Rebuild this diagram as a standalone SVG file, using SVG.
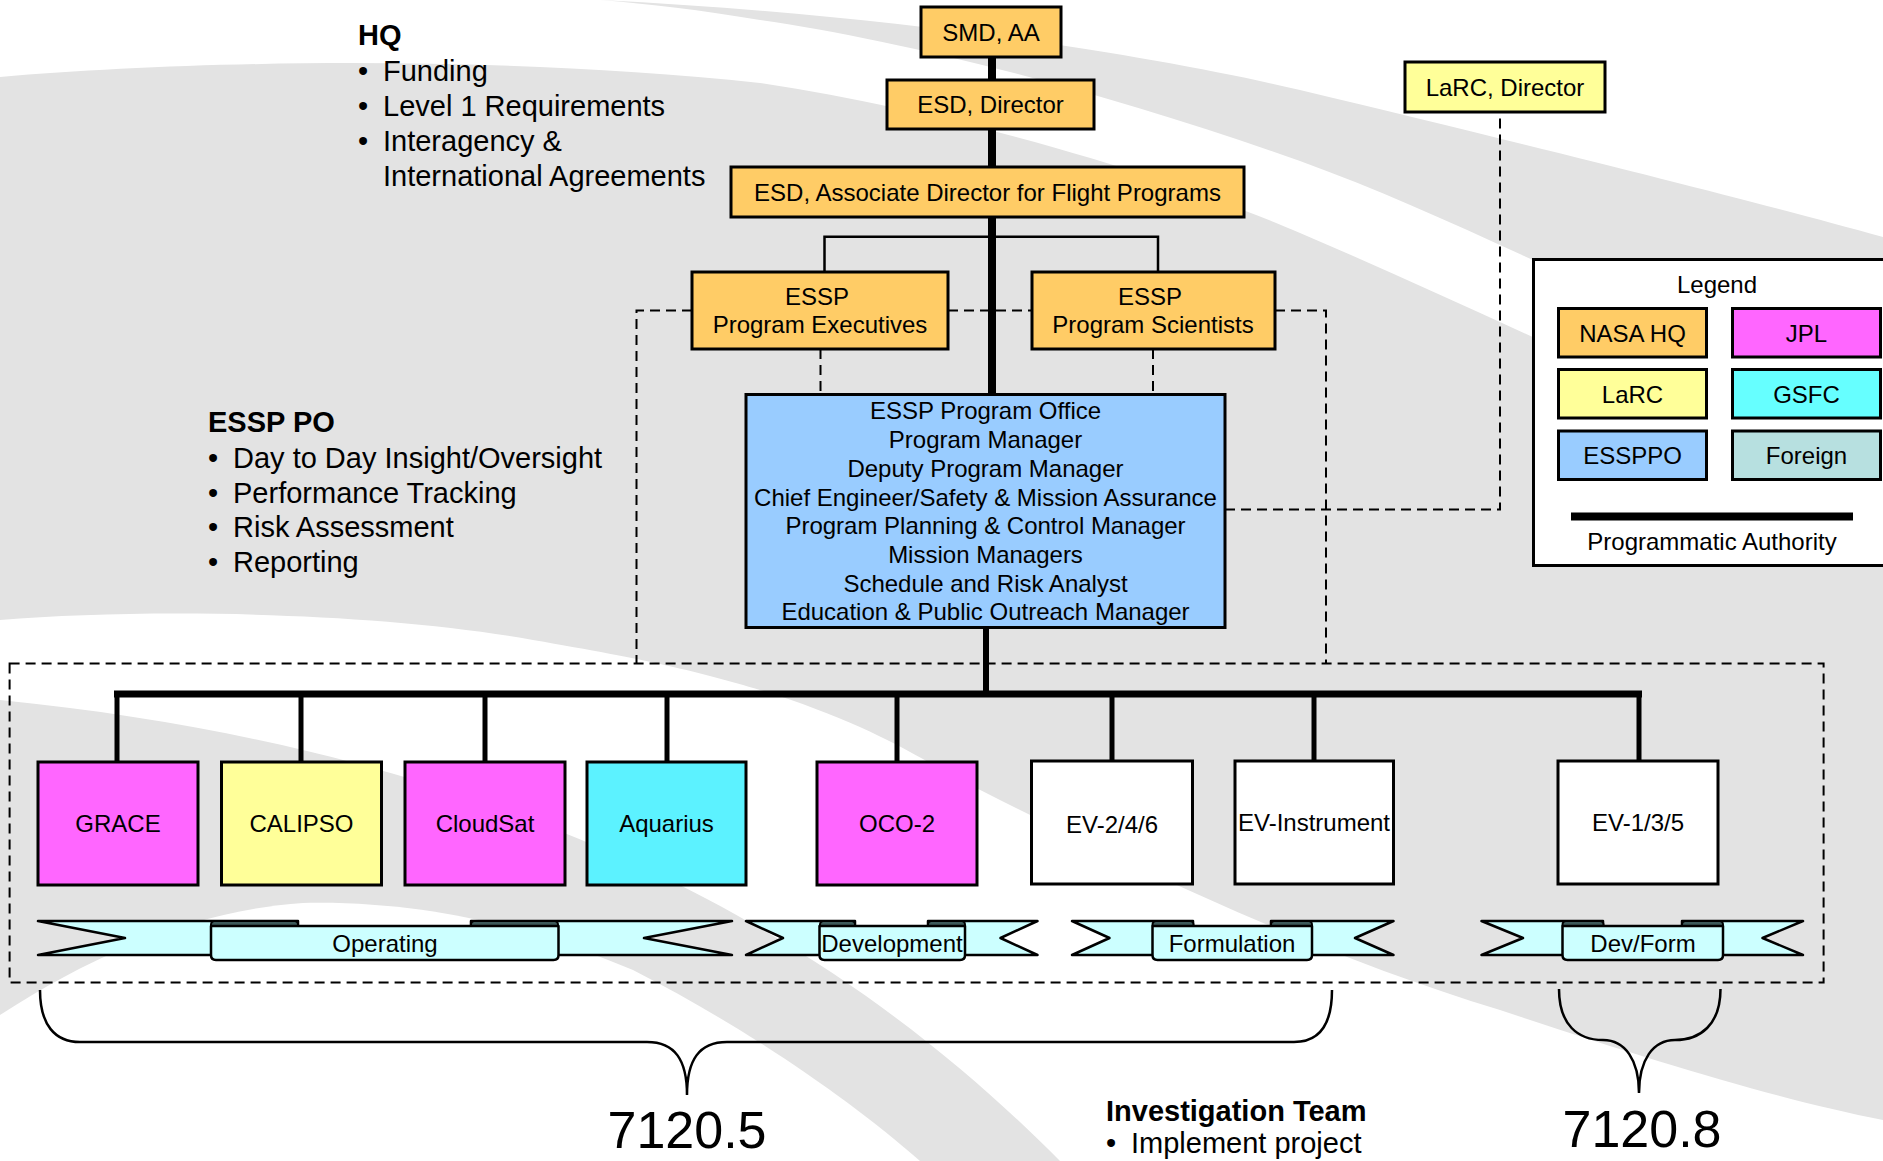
<svg xmlns="http://www.w3.org/2000/svg" width="1883" height="1161" viewBox="0 0 1883 1161">
<defs>
<style>
text{font-family:"Liberation Sans",Arial,sans-serif;fill:#000}
.n{stroke:#000;stroke-width:3}
.t24{font-size:24px}
.c{text-anchor:middle}
.h{font-size:29px}
.hb{font-size:29px;font-weight:bold}
.big{font-size:52px}
.hq{fill:#FFCC66}
.larc{fill:#FFFF99}
.jpl{fill:#FF66FF}
.gsfc{fill:#66FFFF}
.po{fill:#99CCFF}
.fr{fill:#B7E0E0}
.wh{fill:#FFFFFF}
.thick{stroke:#000;fill:none}
.dash{stroke:#000;stroke-width:2;fill:none;stroke-dasharray:10 6}
.rib{fill:#CCFFFF;stroke:#000;stroke-width:2.5;stroke-linejoin:round}
.curl{fill:#3d5a5a;stroke:#000;stroke-width:2}
.brace{fill:none;stroke:#000;stroke-width:2.5}
</style>
</defs>
<g id="background">
<rect x="0" y="0" width="1883" height="1161" fill="#E3E3E3"/>
<path fill="#FFFFFF" d="M0,0 L0,77 C200,60 500,55 760,83 C1000,120 1200,190 1300,233 C1500,318 1700,420 1883,487 L1883,0 Z"/>
<path fill="#E3E3E3" d="M600,0 C900,15 1150,55 1300,90 C1550,150 1750,200 1883,237 L1883,420 C1750,360 1600,290 1533,260 C1450,222 1380,190 1300,161 C1100,90 900,40 760,20 C700,10 650,4 600,0 Z"/>
<path fill="#FFFFFF" d="M0,620 C150,608 380,612 533,640 C650,660 700,672 760,690 C850,718 900,745 950,775 C1100,850 1300,950 1500,1010 C1650,1060 1780,1100 1883,1120 L1883,1161 L1060,1161 C900,1000 600,760 0,700 Z"/>
<path fill="#FFFFFF" d="M0,1015 C100,950 200,910 303,903 C450,900 560,940 633,970 C750,1030 850,1100 920,1161 L0,1161 Z"/>
</g>
<g id="connectors">
<line class="thick" x1="992" y1="57" x2="992" y2="394" stroke-width="8"/>
<path d="M824.5,272 V236.7 H1158 V272" fill="none" stroke="#000" stroke-width="2.5"/>
<path class="dash" d="M692,310.5 H636.5 V663"/>
<path class="dash" d="M948,310.5 H1032"/>
<path class="dash" d="M1275,310.5 H1326 V663"/>
<path class="dash" d="M820.5,349 V394"/>
<path class="dash" d="M1153,349 V394"/>
<path class="dash" d="M1225,509.5 H1500 V112"/>
<line class="thick" x1="986" y1="627" x2="986" y2="694" stroke-width="6"/>
<line class="thick" x1="114" y1="694" x2="1642" y2="694" stroke-width="7"/>
<g stroke="#000" stroke-width="5">
<line x1="117" y1="694" x2="117" y2="762"/>
<line x1="301" y1="694" x2="301" y2="762"/>
<line x1="485" y1="694" x2="485" y2="762"/>
<line x1="667" y1="694" x2="667" y2="762"/>
<line x1="897" y1="694" x2="897" y2="762"/>
<line x1="1112" y1="694" x2="1112" y2="762"/>
<line x1="1314" y1="694" x2="1314" y2="762"/>
<line x1="1639" y1="694" x2="1639" y2="762"/>
</g>
<rect x="9.6" y="663.5" width="1814" height="319" class="dash"/>
</g>
<g id="hq-notes">
<text class="hb" x="358" y="44.5">HQ</text>
<text class="h" x="358" y="80.5">•</text><text class="h" x="383" y="80.5">Funding</text>
<text class="h" x="358" y="116">•</text><text class="h" x="383" y="116">Level 1 Requirements</text>
<text class="h" x="358" y="151">•</text><text class="h" x="383" y="151">Interagency &amp;</text>
<text class="h" x="383" y="186">International Agreements</text>
</g>
<g id="po-notes">
<text class="hb" x="208" y="432">ESSP PO</text>
<text class="h" x="208" y="468">•</text><text class="h" x="233" y="468">Day to Day Insight/Oversight</text>
<text class="h" x="208" y="503">•</text><text class="h" x="233" y="503">Performance Tracking</text>
<text class="h" x="208" y="537">•</text><text class="h" x="233" y="537">Risk Assessment</text>
<text class="h" x="208" y="572">•</text><text class="h" x="233" y="572">Reporting</text>
</g>
<g id="smd">
<rect class="n hq" x="921" y="7" width="140" height="50"/>
<text class="t24 c" x="991" y="40.5">SMD, AA</text>
</g>
<g id="esd-director">
<rect class="n hq" x="887" y="80" width="207" height="49"/>
<text class="t24 c" x="990.5" y="113">ESD, Director</text>
</g>
<g id="esd-assoc">
<rect class="n hq" x="731" y="167" width="513" height="50"/>
<text class="t24 c" x="987.5" y="200.5">ESD, Associate Director for Flight Programs</text>
</g>
<g id="essp-exec">
<rect class="n hq" x="692" y="272" width="256" height="77"/>
<text class="t24 c" x="817" y="305">ESSP</text>
<text class="t24 c" x="820" y="333">Program Executives</text>
</g>
<g id="essp-sci">
<rect class="n hq" x="1032" y="272" width="243" height="77"/>
<text class="t24 c" x="1150" y="305">ESSP</text>
<text class="t24 c" x="1153" y="333">Program Scientists</text>
</g>
<g id="larc-director">
<rect class="n larc" x="1405" y="62" width="200" height="50"/>
<text class="t24 c" x="1505" y="95.5">LaRC, Director</text>
</g>
<g id="essp-po">
<rect class="n po" x="746" y="394.5" width="479" height="233"/>
<g class="t24">
<text class="c" x="985.5" y="419">ESSP Program Office</text>
<text class="c" x="985.5" y="448">Program Manager</text>
<text class="c" x="985.5" y="477">Deputy Program Manager</text>
<text class="c" x="985.5" y="505.5">Chief Engineer/Safety &amp; Mission Assurance</text>
<text class="c" x="985.5" y="534">Program Planning &amp; Control Manager</text>
<text class="c" x="985.5" y="562.5">Mission Managers</text>
<text class="c" x="985.5" y="591.5">Schedule and Risk Analyst</text>
<text class="c" x="985.5" y="620">Education &amp; Public Outreach Manager</text>
</g>
</g>
<g id="legend">
<rect x="1533.5" y="259.5" width="380" height="306" fill="#FFFFFF" stroke="#000" stroke-width="3"/>
<text class="t24 c" x="1717" y="293">Legend</text>
<rect class="n hq" x="1558.5" y="308.5" width="148" height="48.5"/>
<text class="t24 c" x="1632.5" y="341.5">NASA HQ</text>
<rect class="n jpl" x="1732.5" y="308.5" width="148" height="48.5"/>
<text class="t24 c" x="1806.5" y="341.5">JPL</text>
<rect class="n larc" x="1558.5" y="369.5" width="148" height="48.5"/>
<text class="t24 c" x="1632.5" y="402.5">LaRC</text>
<rect class="n gsfc" x="1732.5" y="369.5" width="148" height="48.5"/>
<text class="t24 c" x="1806.5" y="402.5">GSFC</text>
<rect class="n po" x="1558.5" y="431" width="148" height="48.5"/>
<text class="t24 c" x="1632.5" y="464">ESSPPO</text>
<rect class="n fr" x="1732.5" y="431" width="148" height="48.5"/>
<text class="t24 c" x="1806.5" y="464">Foreign</text>
<line x1="1571" y1="516.5" x2="1853" y2="516.5" stroke="#000" stroke-width="8"/>
<text class="t24 c" x="1712" y="550">Programmatic Authority</text>
</g>
<g id="grace"><rect class="n jpl" x="38" y="762" width="160" height="123"/><text class="t24 c" x="118" y="832">GRACE</text></g>
<g id="calipso"><rect class="n larc" x="221.5" y="762" width="160" height="123"/><text class="t24 c" x="301.5" y="832">CALIPSO</text></g>
<g id="cloudsat"><rect class="n jpl" x="405" y="762" width="160" height="123"/><text class="t24 c" x="485" y="832">CloudSat</text></g>
<g id="aquarius"><rect class="n" fill="#5CF2FF" x="587" y="762" width="159" height="123"/><text class="t24 c" x="666.5" y="832">Aquarius</text></g>
<g id="oco2"><rect class="n jpl" x="817" y="762" width="160" height="123"/><text class="t24 c" x="897" y="832">OCO-2</text></g>
<g id="ev246"><rect class="n wh" x="1031.5" y="761" width="161" height="123"/><text class="t24 c" x="1112" y="832.5">EV-2/4/6</text></g>
<g id="ev-instrument"><rect class="n wh" x="1235" y="761" width="158.5" height="123"/><text class="t24 c" x="1314" y="831">EV-Instrument</text></g>
<g id="ev135"><rect class="n wh" x="1558" y="761" width="160" height="123"/><text class="t24 c" x="1638" y="831">EV-1/3/5</text></g>
<g id="ribbon-operating">
<path class="rib" d="M38,921 H298 V955 H38 L125,938 Z"/>
<path class="rib" d="M732,921 H471 V955 H732 L644,938 Z"/>
<rect class="curl" x="211" y="921" width="87" height="7" rx="3.5"/>
<rect class="curl" x="471" y="921" width="87" height="7" rx="3.5"/>
<path class="rib" d="M211,926 H558.5 V955 Q558.5,960 553.5,960 H216 Q211,960 211,955 Z"/>
<text class="t24 c" x="385" y="952">Operating</text>
</g>
<g id="ribbon-development">
<path class="rib" d="M746,921 H855 V955 H746 L783,938 Z"/>
<path class="rib" d="M1037.5,921 H928 V955 H1037.5 L1000.5,938 Z"/>
<rect class="curl" x="820" y="921" width="35" height="7" rx="3.5"/>
<rect class="curl" x="928" y="921" width="37" height="7" rx="3.5"/>
<path class="rib" d="M819.5,926 H965 V955 Q965,960 960,960 H824.5 Q819.5,960 819.5,955 Z"/>
<text class="t24 c" x="892" y="952">Development</text>
</g>
<g id="ribbon-formulation">
<path class="rib" d="M1072,921 H1193 V955 H1072 L1109.5,938 Z"/>
<path class="rib" d="M1393.5,921 H1271 V955 H1393.5 L1355,938 Z"/>
<rect class="curl" x="1152.5" y="921" width="41" height="7" rx="3.5"/>
<rect class="curl" x="1271" y="921" width="41" height="7" rx="3.5"/>
<path class="rib" d="M1152.5,926 H1312 V955 Q1312,960 1307,960 H1157.5 Q1152.5,960 1152.5,955 Z"/>
<text class="t24 c" x="1232" y="952">Formulation</text>
</g>
<g id="ribbon-devform">
<path class="rib" d="M1481.5,921 H1603 V955 H1481.5 L1523,938 Z"/>
<path class="rib" d="M1803,921 H1682 V955 H1803 L1762.5,938 Z"/>
<rect class="curl" x="1562.5" y="921" width="41" height="7" rx="3.5"/>
<rect class="curl" x="1682" y="921" width="41" height="7" rx="3.5"/>
<path class="rib" d="M1562.5,926 H1723 V955 Q1723,960 1718,960 H1567.5 Q1562.5,960 1562.5,955 Z"/>
<text class="t24 c" x="1643" y="952">Dev/Form</text>
</g>
<g id="brace-7120-5">
<path class="brace" d="M40,990 C40,1025 55,1042 80,1042 H647 C675,1042 687,1060 687,1095 C687,1060 699,1042 727,1042 H1294 C1319,1042 1332,1025 1332,990"/>
<text class="big c" x="687" y="1148">7120.5</text>
</g>
<g id="brace-7120-8">
<path class="brace" d="M1559,989 C1559,1025 1578,1040 1603,1040 C1625,1040 1639,1060 1639,1093 C1639,1060 1653,1040 1675,1040 C1700,1040 1720.5,1025 1720.5,989"/>
<text class="big c" x="1642" y="1147">7120.8</text>
</g>
<g id="investigation-team">
<text class="hb" x="1106" y="1121">Investigation Team</text>
<text class="h" x="1106" y="1153">•</text><text class="h" x="1131" y="1153">Implement project</text>
</g>
</svg>
